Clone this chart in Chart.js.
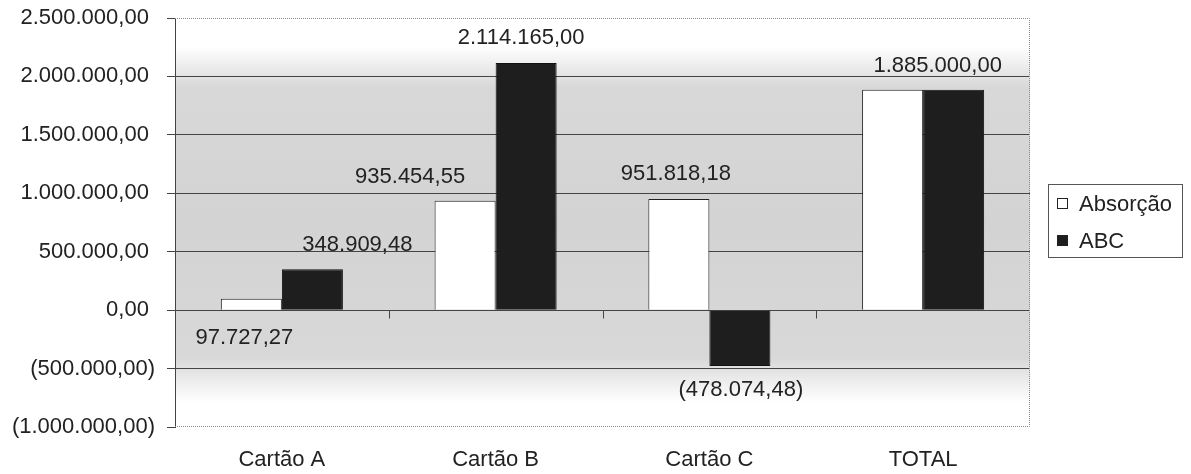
<!DOCTYPE html>
<html>
<head>
<meta charset="utf-8">
<script src="https://cdn.jsdelivr.net/npm/chart.js@4"></script>
<style>
  body { margin: 0; background: #fff; }
  #wrap { width: 1191px; height: 474px; }
</style>
</head>
<body>
<div id="wrap"><canvas id="chart" width="1191" height="474"></canvas></div>
<script>
const categories = ['Cartão A', 'Cartão B', 'Cartão C', 'TOTAL'];
const absorcao = [97727.27, 935454.55, 951818.18, 1885000.00];
const abc = [348909.48, 2114165.00, -478074.48, 1885000.00];
const yTicks = [-1000000, -500000, 0, 500000, 1000000, 1500000, 2000000, 2500000];

// label nudges in px (dx, dy from bar end); null = label hidden
const absLabelShift = [[-7, 39], [-55, -24], [-3, -25], null];
const abcLabelShift = [[45, -24], [-5, -25], [1, 24], [-16, -24]];

const FONT = 'Liberation Sans, Arial, sans-serif';
const SIZE = 22;
const TEXT = '#222';

function fmt(v) {
  const neg = v < 0;
  const parts = Math.abs(v).toFixed(2).split('.');
  const intPart = parts[0].replace(/\B(?=(\d{3})+(?!\d))/g, '.');
  const s = intPart + ',' + parts[1];
  return neg ? '(' + s + ')' : s;
}

const plotBackground = {
  id: 'plotBackground',
  beforeDraw(chart) {
    const { ctx, chartArea: a } = chart;
    const g = ctx.createLinearGradient(0, a.top, 0, a.bottom);
    g.addColorStop(0, '#ffffff');
    g.addColorStop(0.07, '#ffffff');
    g.addColorStop(0.17, '#d8d8d8');
    g.addColorStop(0.5, '#d3d3d3');
    g.addColorStop(0.83, '#d8d8d8');
    g.addColorStop(0.94, '#ffffff');
    g.addColorStop(1, '#ffffff');
    ctx.save();
    ctx.fillStyle = g;
    ctx.fillRect(a.left, a.top, a.right - a.left, a.bottom - a.top);
    ctx.restore();
  },
  afterDraw(chart) {
    const { ctx, chartArea: a, scales } = chart;
    ctx.save();
    // dotted frame top / right / bottom
    ctx.strokeStyle = '#8a8a8a';
    ctx.lineWidth = 1;
    ctx.setLineDash([1, 1]);
    ctx.beginPath();
    ctx.moveTo(a.left, a.top + 0.5);
    ctx.lineTo(a.right - 0.5, a.top + 0.5);
    ctx.lineTo(a.right - 0.5, a.bottom - 0.5);
    ctx.lineTo(a.left, a.bottom - 0.5);
    ctx.stroke();
    ctx.setLineDash([]);
    // x tick marks on the zero line
    const y0 = Math.round(scales.y.getPixelForValue(0)) + 0.5;
    const step = (a.right - a.left) / categories.length;
    ctx.strokeStyle = '#444';
    ctx.beginPath();
    for (let i = 1; i < categories.length; i++) {
      const x = Math.round(a.left + step * i) + 0.5;
      ctx.moveTo(x, y0);
      ctx.lineTo(x, y0 + 8);
    }
    ctx.stroke();
    ctx.restore();
  }
};

const valueLabels = {
  id: 'valueLabels',
  afterDatasetsDraw(chart) {
    const { ctx } = chart;
    const shifts = [absLabelShift, abcLabelShift];
    ctx.save();
    ctx.font = SIZE + 'px ' + FONT;
    ctx.fillStyle = TEXT;
    ctx.textAlign = 'center';
    ctx.textBaseline = 'middle';
    chart.data.datasets.forEach((ds, di) => {
      const meta = chart.getDatasetMeta(di);
      meta.data.forEach((bar, i) => {
        const s = shifts[di][i];
        if (!s) return;
        ctx.fillText(fmt(ds.data[i]), bar.x + s[0], bar.y + s[1]);
      });
    });
    ctx.restore();
  }
};

const boxLegend = {
  id: 'boxLegend',
  afterDraw(chart) {
    const { ctx } = chart;
    const left = 1048, top = 184, w = 134, h = 73;
    ctx.save();
    ctx.strokeStyle = '#555';
    ctx.lineWidth = 1;
    ctx.strokeRect(left + 0.5, top + 0.5, w, h);
    ctx.font = SIZE + 'px ' + FONT;
    ctx.textBaseline = 'middle';
    chart.data.datasets.forEach((ds, i) => {
      const cy = top + 20 + i * 37;
      ctx.fillStyle = ds.backgroundColor;
      ctx.fillRect(left + 9.5, cy - 5.5, 10, 10);
      ctx.strokeStyle = '#222';
      ctx.strokeRect(left + 9.5, cy - 5.5, 10, 10);
      ctx.fillStyle = TEXT;
      ctx.fillText(ds.label, left + 31, cy + 1);
    });
    ctx.restore();
  }
};

new Chart(document.getElementById('chart'), {
  type: 'bar',
  data: {
    labels: categories,
    datasets: [
      {
        label: 'Absorção',
        data: absorcao,
        backgroundColor: '#ffffff',
        borderColor: '#222',
        borderWidth: 1
      },
      {
        label: 'ABC',
        data: abc,
        backgroundColor: '#1e1e1e',
        borderColor: '#111',
        borderWidth: 1
      }
    ]
  },
  options: {
    responsive: false,
    animation: false,
    layout: { padding: { top: 18, right: 161, bottom: 0, left: 0 } },
    datasets: {
      bar: { categoryPercentage: 0.571, barPercentage: 1 }
    },
    plugins: {
      legend: { display: false },
      tooltip: { enabled: false }
    },
    scales: {
      x: {
        grid: { display: false, drawTicks: false },
        border: { display: false },
        ticks: { color: TEXT, font: { family: FONT, size: SIZE }, padding: 20 },
        afterFit: s => { s.height = 47; s.paddingLeft = 0; s.paddingRight = 0; }
      },
      y: {
        min: yTicks[0],
        max: yTicks[yTicks.length - 1],
        afterBuildTicks: s => { s.ticks = yTicks.map(v => ({ value: v })); },
        afterFit: s => { s.width = 175; s.paddingTop = 0; s.paddingBottom = 0; },
        border: { color: '#444', width: 1 },
        grid: {
          color: ctx => (ctx.tick && (ctx.tick.value === yTicks[0] || ctx.tick.value === yTicks[yTicks.length - 1])) ? 'rgba(0,0,0,0)' : '#444',
          tickColor: '#444',
          tickLength: 8
        },
        ticks: {
          color: TEXT,
          font: { family: FONT, size: SIZE },
          padding: 12,
          callback: v => v < 0 ? fmt(v) : fmt(v) + ' '
        }
      }
    }
  },
  plugins: [plotBackground, valueLabels, boxLegend]
});
</script>
</body>
</html>
